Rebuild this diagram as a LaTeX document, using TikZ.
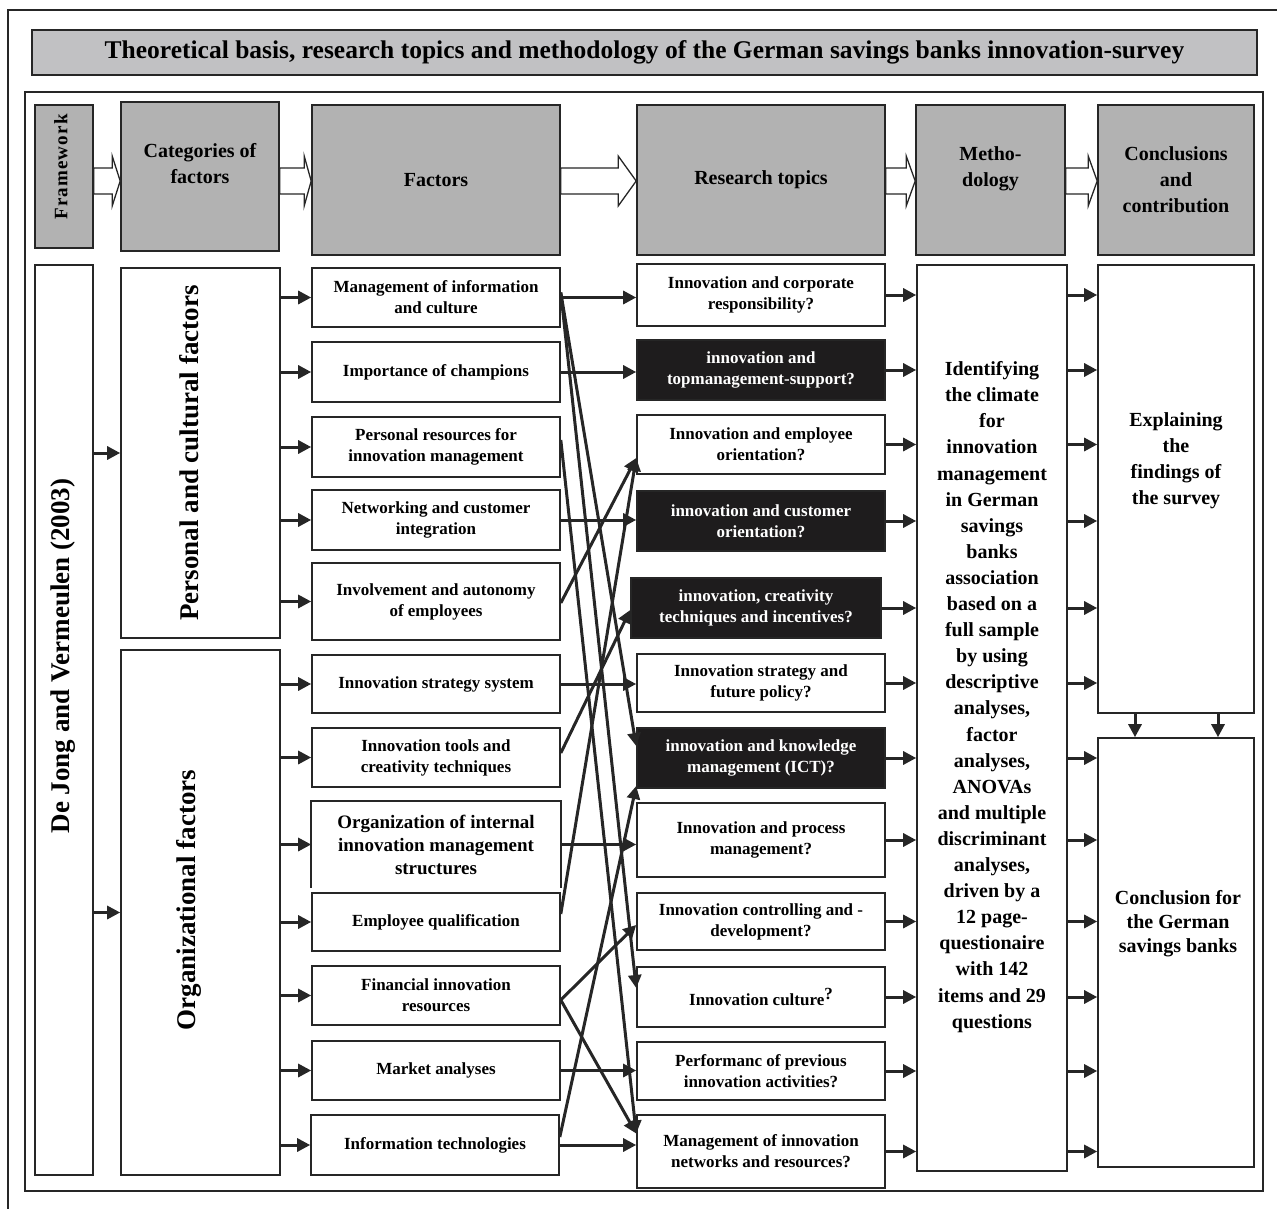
\documentclass[tikz,border=0pt]{standalone}
\usepackage{fontspec}
\setmainfont{Liberation Serif}
\usepackage{xcolor}
\usetikzlibrary{arrows.meta, positioning, calc}

\definecolor{hdrgray}{RGB}{178,178,178}
\definecolor{titlegray}{RGB}{193,193,195}
\definecolor{darkbox}{RGB}{30,28,29}
\definecolor{linegray}{RGB}{38,38,38}

\tikzset{
  boxline/.style={draw=linegray, line width=1.6pt},
  hdrbox/.style={boxline, fill=hdrgray, inner sep=0pt, align=center, font=\fontsize{20}{26}\selectfont\bfseries},
  plainbox/.style={boxline, fill=white, inner sep=0pt},
  factor/.style={plainbox, minimum width=248pt, align=center, font=\fontsize{17}{21}\selectfont\bfseries},
  topic/.style={plainbox, minimum width=248pt, align=center, font=\fontsize{17}{21}\selectfont\bfseries},
  darktopic/.style={topic, fill=darkbox, text=white},
  bodytext/.style={align=center, inner sep=0pt, font=\fontsize{20}{26}\selectfont\bfseries},
  sidetext/.style={rotate=90, inner sep=0pt, font=\fontsize{27}{32}\selectfont\bfseries},
  arr/.style={draw=linegray, line width=3pt, -{Triangle[length=13pt,width=13pt]}},
  hollow/.style={draw=linegray, line width=1.3pt, fill=white, line join=miter},
}

% hollow block arrow between two header boxes: from, to, head length
\newcommand{\blockarrow}[3]{%
  \draw[hollow] let \p1=(#1.east), \p2=(#2.west) in
    (\x1,168) -- (\x2-#3,168) -- (\x2-#3,156) -- (\x2,181) -- (\x2-#3,206)
    -- (\x2-#3,194) -- (\x1,194) -- cycle;}

\begin{document}
\begin{tikzpicture}[x=1pt,y=1pt,yscale=-1,xscale=1]
\useasboundingbox (0,0) rectangle (1277,1209);

%Shape: Frames
\draw[boxline] (8,1209) -- (8,10) -- (1277,10);
\draw[boxline] (25,92) rectangle (1263,1191);

%Shape: Title
\node[boxline, fill=titlegray, minimum width=1225pt, minimum height=45pt, inner sep=0pt, font=\fontsize{25.5}{30}\selectfont\bfseries] (title) at (644.5,52.5) {Theoretical basis, research topics and methodology of the German savings banks innovation-survey};

%Shape: Header row
\node[hdrbox, minimum width=58pt, minimum height=143pt] (fw) at (64,176.5) {};
\node[sidetext, font=\fontsize{19}{22}\selectfont\bfseries\addfontfeature{LetterSpace=6}] (fwtext) at (61,167) {Framework};
\node[hdrbox, minimum width=158pt, minimum height=149pt] (cat) at (200,176.5) {Categories of\\factors\\~};
\node[hdrbox, minimum width=248pt, minimum height=150pt] (fac) at (436,180) {Factors};
\node[hdrbox, minimum width=248pt, minimum height=150pt] (rtop) at (761,180) {Research topics};
\node[hdrbox, minimum width=149pt, minimum height=150pt] (methhdr) at (990.5,180) {Metho-\\dology\\~};
\node[hdrbox, minimum width=156pt, minimum height=150pt] (conchdr) at (1176,180) {Conclusions\\and\\contribution};

%Hollow Arrows
\blockarrow{fw}{cat}{8}
\blockarrow{cat}{fac}{7}
\blockarrow{fac}{rtop}{18}
\blockarrow{rtop}{methhdr}{9}
\blockarrow{methhdr}{conchdr}{9}

%Shape: Framework and categories
\node[plainbox, minimum width=58pt, minimum height=910pt] (dejong) at (64,720) {};
\node[sidetext] (dejongtext) at (63,656) {De Jong and Vermeulen (2003)};
\node[plainbox, minimum width=159pt, minimum height=370pt] (perscult) at (200.5,453) {};
\node[sidetext] (perscultext) at (189,453) {Personal and cultural factors};
\node[plainbox, minimum width=159pt, minimum height=525pt] (orgfac) at (200.5,912.5) {};
\node[sidetext] (orgfactext) at (189,900) {Organizational factors};

%Shape: Factors
\node[factor, minimum height=59pt] (mgmtinfo) at (436,297.5) {Management of information\\and culture};
\node[factor, minimum height=60pt] (champions) at (436,372) {Importance of champions};
\node[factor, minimum height=60pt] (persres) at (436,447) {Personal resources for\\innovation management};
\node[factor, minimum height=60pt] (network) at (436,520) {Networking and customer\\integration};
\node[factor, minimum height=77pt] (involve) at (436,601.5) {Involvement and autonomy\\of employees};
\node[factor, minimum height=58pt] (stratsys) at (436,684) {Innovation strategy system};
\node[factor, minimum height=59pt] (tools) at (436,757.5) {Innovation tools and\\creativity techniques};
\node[factor, draw=none, minimum height=85pt, font=\fontsize{19}{23}\selectfont\bfseries] (orgstruct) at (436,844.5) {Organization of internal\\innovation management\\structures};
\draw[boxline] (orgstruct.south west) -- (orgstruct.north west) -- (orgstruct.north east) -- (orgstruct.south east);
\node[factor, minimum height=58pt] (empqual) at (436,922) {Employee qualification};
\node[factor, minimum height=59pt] (financial) at (436,995.5) {Financial innovation\\resources};
\node[factor, minimum height=59pt] (market) at (436,1070.5) {Market analyses};
\node[factor, minimum height=60pt] (infotech) at (435,1145) {Information technologies};

%Shape: Research topics
\node[topic, minimum height=62pt] (corpresp) at (761,295) {Innovation and corporate\\responsibility?};
\node[darktopic, minimum height=60pt] (topmgmt) at (761,370) {innovation and\\topmanagement-support?};
\node[topic, minimum height=59pt] (emplor) at (761,444.5) {Innovation and employee\\orientation?};
\node[darktopic, minimum height=60pt] (custor) at (761,521) {innovation and customer\\orientation?};
\node[darktopic, minimum height=60pt, minimum width=250pt] (creativ) at (756,608) {innovation, creativity\\techniques and incentives?};
\node[topic, minimum height=58pt] (stratpol) at (761,683) {Innovation strategy and\\future policy?};
\node[darktopic, minimum height=60pt] (knowmgmt) at (761,758) {innovation and knowledge\\management (ICT)?};
\node[topic, minimum height=74pt] (procmgmt) at (761,840) {Innovation and process\\management?};
\node[topic, minimum height=57pt] (controll) at (761,921.5) {Innovation controlling and -\\development?};
\node[topic, minimum height=60pt] (culture) at (761,997) {Innovation culture\raisebox{0.4em}{?}};
\node[topic, minimum height=58pt] (perform) at (761,1071) {Performanc of previous\\innovation activities?};
\node[topic, minimum height=73pt] (netres) at (761,1151.5) {Management of innovation\\networks and resources?};

%Shape: Methodology and conclusions
\node[plainbox, minimum width=150pt, minimum height=906pt] (meth) at (992,718) {};
\node[bodytext, font=\fontsize{20}{26.1}\selectfont\bfseries] (methtext) at (992,697) {Identifying\\the climate\\for\\innovation\\management\\in German\\savings\\banks\\association\\based on a\\full sample\\by using\\descriptive\\analyses,\\factor\\analyses,\\ANOVAs\\and multiple\\discriminant\\analyses,\\driven by a\\12 page-\\questionaire\\with 142\\items and 29\\questions};
\node[plainbox, minimum width=156pt, minimum height=448pt] (expl) at (1176,489) {};
\node[bodytext] (expltext) at (1176,461) {Explaining\\the\\findings of\\the survey};
\node[plainbox, minimum width=156pt, minimum height=429pt] (concl) at (1176,952.5) {};
\node[bodytext, font=\fontsize{20}{24}\selectfont\bfseries] (concltext) at (1178,924) {Conclusion for\\the German\\savings banks};

%Straight Lines: framework to categories
\draw[arr] (dejong.east |- perscult.west) -- (perscult.west);
\draw[arr] (dejong.east |- orgfac.west) -- (orgfac.west);

%Straight Lines: categories to factors
\draw[arr] (perscult.east |- mgmtinfo.west) -- (mgmtinfo.west);
\draw[arr] (perscult.east |- champions.west) -- (champions.west);
\draw[arr] (perscult.east |- persres.west) -- (persres.west);
\draw[arr] (perscult.east |- network.west) -- (network.west);
\draw[arr] (perscult.east |- involve.west) -- (involve.west);
\draw[arr] (orgfac.east |- stratsys.west) -- (stratsys.west);
\draw[arr] (orgfac.east |- tools.west) -- (tools.west);
\draw[arr] (orgfac.east |- orgstruct.west) -- (orgstruct.west);
\draw[arr] (orgfac.east |- empqual.west) -- (empqual.west);
\draw[arr] (orgfac.east |- financial.west) -- (financial.west);
\draw[arr] (orgfac.east |- market.west) -- (market.west);
\draw[arr] (orgfac.east |- infotech.west) -- (infotech.west);

%Straight Lines: factors to research topics
\draw[arr] (mgmtinfo.east) -- (mgmtinfo.east -| corpresp.west);
\draw[arr] (champions.east) -- (champions.east -| topmgmt.west);
\draw[arr] (network.east) -- (network.east -| custor.west);
\draw[arr] (stratsys.east) -- (stratsys.east -| stratpol.west);
\draw[arr] (orgstruct.east) -- (orgstruct.east -| procmgmt.west);
\draw[arr] (market.east) -- (market.east -| perform.west);
\draw[arr] (infotech.east) -- (infotech.east -| netres.west);
\draw[arr] ($(mgmtinfo.east)+(0,-5)$) -- ($(knowmgmt.west)+(0,-12)$);
\draw[arr] ($(mgmtinfo.east)+(0,-5)$) -- ($(culture.west)+(0,-9)$);
\draw[arr] ($(persres.east)+(0,-7)$) -- ($(netres.west)+(0,-18)$);
\draw[arr] ($(involve.east)+(0,1.5)$) -- ($(emplor.west)+(0,13.5)$);
\draw[arr] ($(empqual.east)+(0,-8)$) -- ($(emplor.west)+(0,13.5)$);
\draw[arr] ($(tools.east)+(0,-4.5)$) -- ($(creativ.west)+(0,2)$);
\draw[arr] ($(financial.east)+(0,4.5)$) -- ($(controll.west)+(0,3.5)$);
\draw[arr] ($(financial.east)+(0,4.5)$) -- ($(netres.west)+(0,-18)$);
\draw[arr] ($(infotech.east)+(0,-8)$) -- ($(knowmgmt.west)+(0,28)$);

%Straight Lines: research topics to methodology
\draw[arr] (corpresp.east) -- (corpresp.east -| meth.west);
\draw[arr] (topmgmt.east) -- (topmgmt.east -| meth.west);
\draw[arr] (emplor.east) -- (emplor.east -| meth.west);
\draw[arr] (custor.east) -- (custor.east -| meth.west);
\draw[arr] (creativ.east) -- (creativ.east -| meth.west);
\draw[arr] (stratpol.east) -- (stratpol.east -| meth.west);
\draw[arr] (knowmgmt.east) -- (knowmgmt.east -| meth.west);
\draw[arr] (procmgmt.east) -- (procmgmt.east -| meth.west);
\draw[arr] (controll.east) -- (controll.east -| meth.west);
\draw[arr] (culture.east) -- (culture.east -| meth.west);
\draw[arr] (perform.east) -- (perform.east -| meth.west);
\draw[arr] (netres.east) -- (netres.east -| meth.west);

%Straight Lines: methodology to conclusions
\draw[arr] (meth.east |- corpresp.east) -- (expl.west |- corpresp.east);
\draw[arr] (meth.east |- topmgmt.east) -- (expl.west |- topmgmt.east);
\draw[arr] (meth.east |- emplor.east) -- (expl.west |- emplor.east);
\draw[arr] (meth.east |- custor.east) -- (expl.west |- custor.east);
\draw[arr] (meth.east |- creativ.east) -- (expl.west |- creativ.east);
\draw[arr] (meth.east |- stratpol.east) -- (expl.west |- stratpol.east);
\draw[arr] (meth.east |- knowmgmt.east) -- (concl.west |- knowmgmt.east);
\draw[arr] (meth.east |- procmgmt.east) -- (concl.west |- procmgmt.east);
\draw[arr] (meth.east |- controll.east) -- (concl.west |- controll.east);
\draw[arr] (meth.east |- culture.east) -- (concl.west |- culture.east);
\draw[arr] (meth.east |- perform.east) -- (concl.west |- perform.east);
\draw[arr] (meth.east |- netres.east) -- (concl.west |- netres.east);

%Straight Lines: explaining to conclusion
\coordinate (downl) at ($(expl.south)+(-41,0)$);
\coordinate (downr) at ($(expl.south)+(42,0)$);
\draw[arr] (downl) -- (downl |- concl.north);
\draw[arr] (downr) -- (downr |- concl.north);

\end{tikzpicture}
\end{document}
